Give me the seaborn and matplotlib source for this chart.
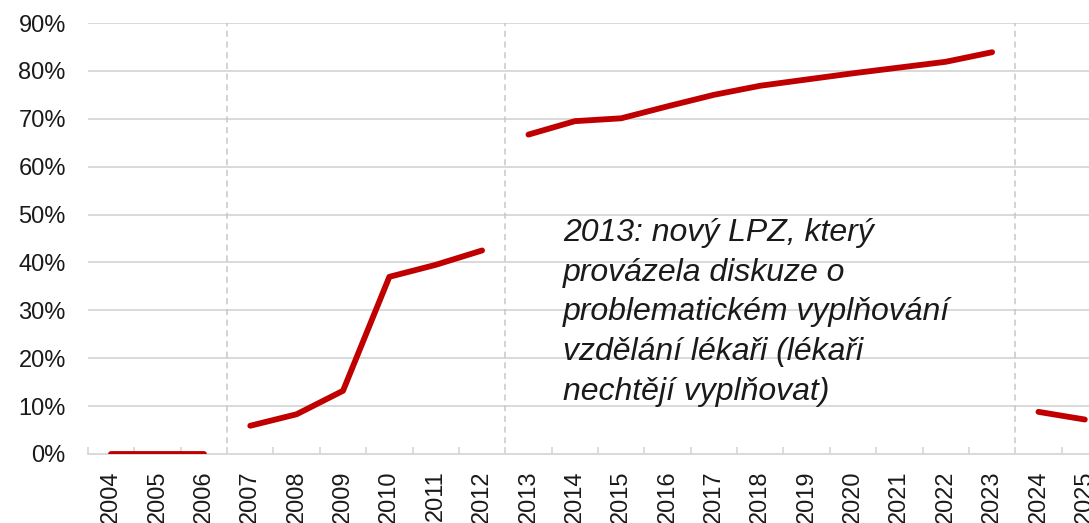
import numpy as np
import pandas as pd
import matplotlib
matplotlib.use("Agg")
import matplotlib.pyplot as plt
import seaborn as sns
from matplotlib.ticker import FuncFormatter, FixedLocator

# ---- data (values in %) ----
years = [str(y) for y in range(2004, 2026)]
seg1_years = ["2004", "2005", "2006"]
seg1_vals = [0.0, 0.0, 0.0]
seg2_years = ["2007", "2008", "2009", "2010", "2011", "2012"]
seg2_vals = [5.9, 8.3, 13.2, 37.0, 39.5, 42.5]
seg3_years = ["2013", "2014", "2015", "2016", "2017", "2018", "2019", "2020", "2021", "2022", "2023"]
seg3_vals = [66.7, 69.5, 70.1, 72.6, 75.0, 76.9, 78.2, 79.5, 80.7, 81.9, 83.9]
seg4_years = ["2024", "2025"]
seg4_vals = [8.8, 7.2]
y_ticks = [0, 10, 20, 30, 40, 50, 60, 70, 80, 90]
annotation = "2013: nový LPZ, který\nprovázela diskuze o\nproblematickém vyplňování\nvzdělání lékaři (lékaři\nnechtějí vyplňovat)"

rows = []
for sid, (ys, vs) in enumerate([(seg1_years, seg1_vals), (seg2_years, seg2_vals),
                                (seg3_years, seg3_vals), (seg4_years, seg4_vals)]):
    for y, v in zip(ys, vs):
        rows.append({"pos": years.index(y), "value": v, "segment": sid})
df = pd.DataFrame(rows)

sns.set_theme(style="white")
plt.rcParams["font.family"] = ["Liberation Sans", "DejaVu Sans"]

fig = plt.figure(figsize=(10.89, 5.23), dpi=100)
W, H = 1089, 523
left_px, right_px, zero_px, top_px = 88, 1108, 454, 23
ax = fig.add_axes([left_px / W, (H - zero_px) / H, (right_px - left_px) / W, (zero_px - top_px) / H])

# gridlines
for t in y_ticks[1:]:
    ax.axhline(t, color="#D9D9D9", lw=1.4, zorder=0)

# dashed separators between periods
for b in [2.5, 8.5, 19.5]:
    ax.axvline(b, color="#C8C8C8", lw=1.1, ls=(0, (4, 3)), zorder=0)

sns.lineplot(data=df, x="pos", y="value", units="segment", estimator=None,
             color="#C00000", lw=4.2, ax=ax, legend=False,
             solid_capstyle="round", solid_joinstyle="round", zorder=3)

ax.set_xlim(-0.5, len(years) - 0.5)
ax.set_ylim(0, 90)
ax.set_xlabel("")
ax.set_ylabel("")

ax.set_xticks(range(len(years)))
ax.set_xticklabels(years, rotation=90, fontsize=17, color="#1a1a1a")
ax.xaxis.set_minor_locator(FixedLocator(np.arange(-0.5, len(years), 1.0)))
ax.tick_params(axis="x", which="major", length=0, pad=12)
ax.tick_params(axis="x", which="minor", direction="in", length=5, width=1.3,
               color="#D9D9D9", bottom=True)

ax.set_yticks(y_ticks)
ax.yaxis.set_major_formatter(FuncFormatter(lambda v, p: f"{int(v)}%"))
ax.tick_params(axis="y", length=0, pad=16, labelsize=17, labelcolor="#1a1a1a")

for s in ["top", "right", "left"]:
    ax.spines[s].set_visible(False)
ax.spines["bottom"].set_color("#D9D9D9")
ax.spines["bottom"].set_linewidth(1.4)

ax.text(9.75, 49.3, annotation, fontsize=23, style="italic", color="#1a1a1a",
        va="top", ha="left", linespacing=1.42, zorder=4)

fig.savefig("out.png", dpi=100)
